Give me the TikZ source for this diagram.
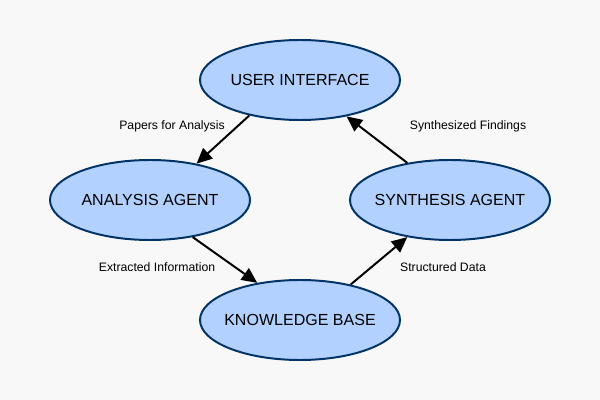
\documentclass[tikz,border=0pt]{standalone}
\usepackage{fontspec}
\setmainfont{Liberation Sans}
\usetikzlibrary{shapes.geometric,arrows.meta}
\definecolor{bgcol}{HTML}{F8F8F8}
\definecolor{agentfill}{HTML}{B3D1FF}
\definecolor{agentline}{HTML}{003366}
\begin{document}
\begin{tikzpicture}[x=0.025cm,y=-0.025cm,
  agent/.style={ellipse,draw=agentline,fill=agentfill,line width=1.4pt,
    minimum width=200*0.025cm,minimum height=80*0.025cm,inner xsep=-12pt,inner ysep=0pt,
    font=\fontsize{11.4}{13}\selectfont},
  flow/.style={-{Triangle[length=11pt,width=10pt]},line width=1.4pt},
  flowlabel/.style={font=\fontsize{8.7}{10}\selectfont}]
\fill[bgcol] (0,0) rectangle (600,400);

\node[agent] (ui)  at (300,80)  {USER INTERFACE};
\node[agent] (ana) at (150,200) {ANALYSIS AGENT};
\node[agent] (syn) at (450,200) {SYNTHESIS AGENT};
\node[agent] (kb)  at (300,320) {KNOWLEDGE BASE};

\draw[flow] (ui.-145) -- (ana.38);
\draw[flow] (ana.-41) -- (kb.139);
\draw[flow] (kb.35)   -- (syn.-139);
\draw[flow] (syn.139) -- (ui.-38);

\node[flowlabel] (papers)    at (172,126) {Papers for Analysis};
\node[flowlabel] (findings)  at (468,126) {Synthesized Findings};
\node[flowlabel] (extracted) at (157,267) {Extracted Information};
\node[flowlabel] (struct)    at (443,267) {Structured Data};
\end{tikzpicture}
\end{document}
